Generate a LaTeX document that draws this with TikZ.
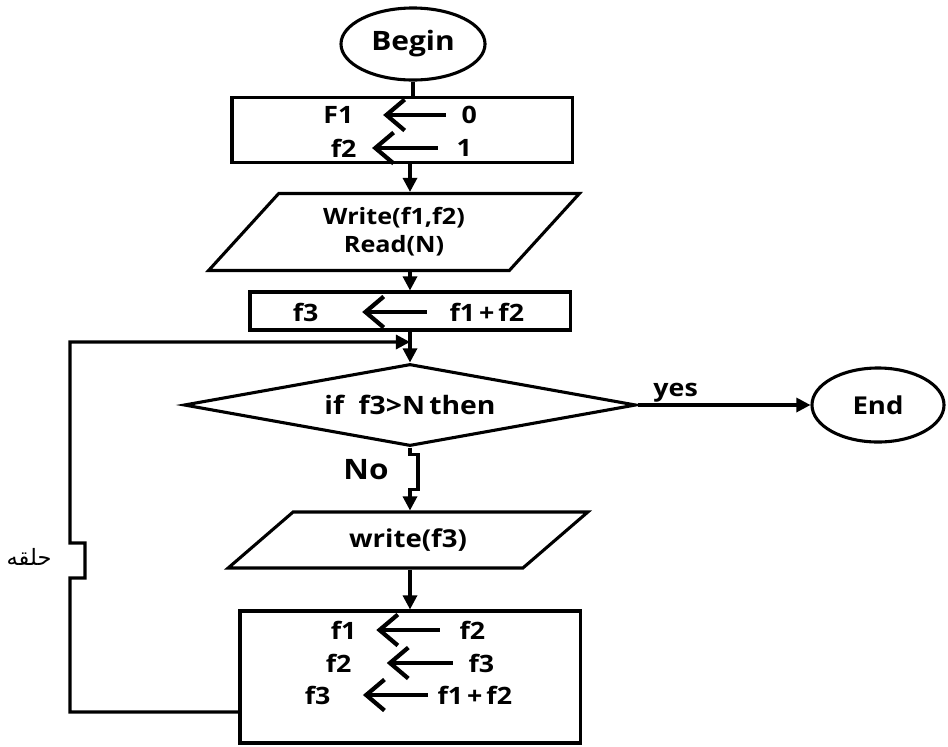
\documentclass[tikz,border=0pt]{standalone}
\usepackage{fontspec}
\setmainfont{Open Sans}[FakeStretch=1.12]
\newfontfamily\arabicfont[Script=Arabic]{DejaVu Sans}
\TeXXeTstate=1
\usetikzlibrary{shapes.geometric,arrows.meta}

\begin{document}
\begin{tikzpicture}[x=0.025cm, y=-0.025cm, line width=2.2pt,
	term/.style={draw, ellipse, inner sep=0pt},
	proc/.style={draw, rectangle, inner sep=0pt},
	io/.style={draw, trapezium, trapezium stretches=true, inner sep=0pt, align=center},
	cond/.style={draw, diamond, aspect=5.5, inner sep=0pt},
	txt/.style={inner sep=0pt, font=\fontsize{17}{20}\selectfont\bfseries},
	flow/.style={-{Triangle[length=10pt,width=10pt]}},
	asg/.style={line width=3pt, {Straight Barb[length=13pt,width=22pt]}-}]
	\useasboundingbox (0,0) rectangle (948,746);
	\coordinate (col) at (410,0);
	\coordinate (merge) at (410,342);
		\node[term, minimum width=3.6cm, minimum height=1.8cm, font=\fontsize{19}{24}\selectfont\bfseries] (begin) at (413,44) {Begin};
		\node[proc, minimum width=8.5cm, minimum height=1.625cm] (init) at (402,130) {};
		\node[txt, anchor=east] (i1l) at (355,115) {F1};
		\node[txt, anchor=west] (i1r) at (460,115) {0};
		\node[txt, anchor=east] (i2l) at (358,148) {f2};
		\node[txt, anchor=west] (i2r) at (455,148) {1};
		\node[io, trapezium left angle=48.6, trapezium right angle=131.4, minimum width=9.275cm, minimum height=1.925cm, font=\fontsize{16}{20}\selectfont\bfseries] (rd) at (394,232) {Write(f1,f2)\\Read(N)};
		\node[proc, minimum width=8cm, minimum height=0.95cm] (sum) at (410,311) {};
		\node[txt, anchor=east] (s1l) at (320,312) {f3};
		\node[txt, anchor=west] (s1r) at (448,312) {f1\,+\,f2};
		\node[cond, minimum width=11.3cm, minimum height=2.05cm, font=\fontsize{18}{20}\selectfont\bfseries] (test) at (410,405) {if\ \ f3>N\,then};
		\node[term, minimum width=3.3cm, minimum height=1.85cm, font=\fontsize{17.5}{22}\selectfont\bfseries] (end) at (878,405) {End};
		\node[io, trapezium left angle=34.3, trapezium right angle=145.7, minimum width=9cm, minimum height=1.4cm, font=\fontsize{17.5}{20}\selectfont\bfseries] (wr) at (408,540) {write(f3)};
		\node[proc, minimum width=8.5cm, minimum height=3.3cm] (upd) at (410,677) {};
		\node[txt, anchor=east] (u1l) at (358,630) {f1};
		\node[txt, anchor=west] (u1r) at (458,630) {f2};
		\node[txt, anchor=east] (u2l) at (353,663) {f2};
		\node[txt, anchor=west] (u2r) at (467,663) {f3};
		\node[txt, anchor=east] (u3l) at (332,695) {f3};
		\node[txt, anchor=west] (u3r) at (436,695) {f1\,+\,f2};
		\node[txt, font=\fontsize{20}{22}\selectfont\bfseries] (no) at (366,470) {No};
		\node[inner sep=0pt, anchor=east, font=\fontsize{16}{18}\selectfont\arabicfont] (loop) at (53,557) {\beginR حلقه\endR};
		\draw[asg, shorten <=20pt, shorten >=10pt] (i1l.east) -- (i1l.east -| i1r.west);
		\draw[asg, shorten <=10pt, shorten >=12pt] (i2l.east) -- (i2l.east -| i2r.west);
		\draw[asg, shorten <=30pt, shorten >=15pt] (s1l.east) -- (s1l.east -| s1r.west);
		\draw[asg, shorten <=13pt, shorten >=13pt] (u1l.east) -- (u1l.east -| u1r.west);
		\draw[asg, shorten <=24pt, shorten >=10pt] (u2l.east) -- (u2l.east -| u2r.west);
		\draw[asg, shorten <=22pt, shorten >=6pt] (u3l.east) -- (u3l.east -| u3r.west);
		\draw (begin.south) -- (begin.south |- init.north);
		\draw[flow] (init.south -| col) -- (rd.north -| col);
		\draw[flow] (rd.south -| col) -- (sum.north -| col);
		\draw[flow] (sum.south -| col) -- (test.north);
		\draw[flow] (test.east) -- node[pos=0.22, above, inner sep=1pt, font=\fontsize{17}{20}\selectfont\bfseries] {yes} (end.west);
		\draw[flow] (test.south) -- ++(0,7) -- ++(8,0) -- ++(0,35) -- ++(-8,0) -- (wr.north -| col);
		\draw[flow] (wr.south -| col) -- (upd.north);
		\draw[flow] ([yshift=-0.875cm]upd.west) -- (70,712) -- (70,578) -- (85,578) -- (85,543) -- (70,543) -- (70,342) -- (merge);
	\end{tikzpicture}
\end{document}
